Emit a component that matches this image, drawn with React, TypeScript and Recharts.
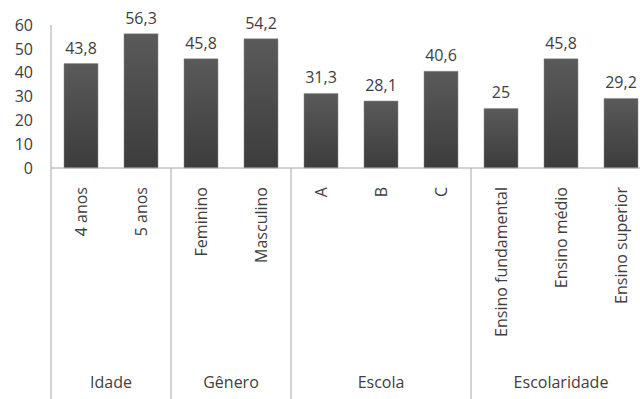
import { BarChart, Bar, XAxis, YAxis, LabelList } from "recharts";

const categories = ["4 anos", "5 anos", "Feminino", "Masculino", "A", "B", "C", "Ensino fundamental", "Ensino médio", "Ensino superior"];
const values = [43.8, 56.3, 45.8, 54.2, 31.3, 28.1, 40.6, 25, 45.8, 29.2];
const groupNames = ["Idade", "Gênero", "Escola", "Escolaridade"];
const groupSizes = [2, 2, 3, 3];
const yTicks = [0, 10, 20, 30, 40, 50, 60];

const data = categories.map((name, i) => ({ name, value: values[i] }));

// first index of each group
const groupStarts: number[] = [];
groupSizes.reduce((acc, n) => {
  groupStarts.push(acc);
  return acc + n;
}, 0);

const PLOT_W = 600;
const BAND = PLOT_W / categories.length;
const FONT = "'Open Sans', sans-serif";
const TEXT = "#404040";
const LINE = "#a6a6a6";

const CategoryTick = (props: any) => {
  const { x, y, payload, index } = props;
  const g = groupStarts.indexOf(index);
  const base = y - 8; // axis line
  return (
    <g>
      <text
        x={x}
        y={base + 19}
        transform={`rotate(-90 ${x} ${base + 19})`}
        textAnchor="end"
        dy="0.35em"
        fill={TEXT}
        fontSize={16}
        fontFamily={FONT}
      >
        {payload.value}
      </text>
      {g >= 0 && (
        <>
          <line x1={x - BAND / 2} x2={x - BAND / 2} y1={base} y2={base + 231} stroke={LINE} strokeWidth={1} />
          <text
            x={x - BAND / 2 + (groupSizes[g] * BAND) / 2}
            y={base + 214}
            textAnchor="middle"
            dy="0.35em"
            fill={TEXT}
            fontSize={16}
            fontFamily={FONT}
          >
            {groupNames[g]}
          </text>
        </>
      )}
    </g>
  );
};

const App = () => (
  <div style={{ position: "absolute", left: 0, top: 0, width: 640, height: 399, overflow: "hidden", background: "#fff" }}>
    <BarChart width={660} height={399} data={data} margin={{ top: 25, right: 9, bottom: 0, left: 0 }} barSize={34}>
      <defs>
        <linearGradient id="barFill" x1="0" y1="0" x2="0" y2="1">
          <stop offset="0%" stopColor="#5a5a5a" />
          <stop offset="100%" stopColor="#3c3c3c" />
        </linearGradient>
      </defs>
      <XAxis
        dataKey="name"
        interval={0}
        height={231}
        tickLine={false}
        axisLine={{ stroke: LINE }}
        tick={<CategoryTick />}
      />
      <YAxis
        width={51}
        domain={[0, 60]}
        ticks={yTicks}
        tickLine={false}
        tickSize={0}
        tickMargin={18}
        axisLine={{ stroke: LINE }}
        tick={{ fill: TEXT, fontSize: 16, fontFamily: FONT }}
      />
      <Bar dataKey="value" fill="url(#barFill)" stroke="#8a8a8a" strokeWidth={0.5} isAnimationActive={false}>
        <LabelList
          dataKey="value"
          position="top"
          offset={10}
          fill={TEXT}
          fontSize={16}
          fontFamily={FONT}
          formatter={(v: any) => String(v).replace(".", ",")}
        />
      </Bar>
    </BarChart>
  </div>
);

export default App;
